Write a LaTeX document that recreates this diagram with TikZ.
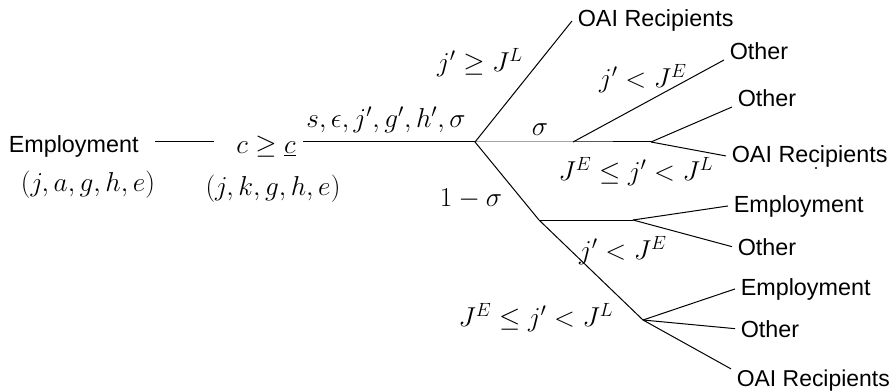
\RequirePackage{fix-cm}
\documentclass[tikz,border=0pt]{standalone}
\usepackage[no-math]{fontspec}
\newfontfamily\labelfont{Liberation Sans}

\tikzset{every picture/.style={line width=0.75pt}}
\tikzset{
  outcome/.style={anchor=base west, inner xsep=4pt, inner ysep=0pt, font=\labelfont\fontsize{17.5}{21}\selectfont},
  cond/.style={inner sep=0pt, font=\fontsize{20.5}{24}\selectfont},
}

\begin{document}
\begin{tikzpicture}[x=0.75pt,y=0.75pt,yscale=-1,xscale=1]
\useasboundingbox (0,0) rectangle (892,392);

% Text Node
\node [outcome] (emp) at (3,152) {Employment};
\node [cond] (empvar) at (88,185) {$(j,a,g,h,e)$};
\node [cond] (cut) at (266,147) {$c\geq\underline{c}$};
\node [cond] (cutvar) at (273,189) {$(j,k,g,h,e)$};

%Branch points
\coordinate (root) at (475,142);
\coordinate (sig) at (573,142);
\coordinate (sigmid) at (651,142);
\coordinate (nosig) at (539,220);
\coordinate (nosigmid) at (633,220);
\coordinate (nosiglow) at (643,320);

% Text Node
\node [outcome] (oaitop) at (572,27) {OAI Recipients};
\node [outcome] (othA) at (724,60) {Other};
\node [outcome] (othB) at (732,107) {Other};
\node [outcome] (oaiB) at (726,162) {OAI Recipients};
\node [outcome] (empC) at (728,212) {Employment};
\node [outcome] (othC) at (732,255) {Other};
\node [outcome] (empD) at (735,295) {Employment};
\node [outcome] (othD) at (735,337) {Other};
\node [outcome, font=\labelfont\fontsize{17.2}{21}\selectfont] (oaiD) at (731,386) {OAI Recipients};

%Straight Lines
\draw [shorten <=8pt, shorten >=16pt] (emp.east |- root) -- (cut.west |- root);
\draw [shorten <=5pt] (cut.east |- root) -- (root);
\draw (root) -- (oaitop.west);
\draw (root) -- (sig) -- (sigmid);
\draw (sig) -- (othA.base west);
\draw (sigmid) -- (othB.base west);
\draw (sigmid) -- (oaiB.west);
\draw (root) -- (nosig) -- (nosiglow);
\draw (nosig) -- (nosigmid);
\draw (nosigmid) -- (empC.west);
\draw (nosigmid) -- (othC.west);
\draw (nosiglow) -- (empD.west);
\draw (nosiglow) -- (othD.west);
\draw (nosiglow) -- (oaiD.north west);

% Text Node
\node [cond] (draws) at (386,120) {$s,\epsilon,j',g',h',\sigma$};
\node [cond] (condL) at (480,63) {$j'\geq J^L$};
\node [cond] (prob) at (540,130) {$\sigma$};
\node [cond] (condEa) at (643,79) {$j'<J^E$};
\node [cond] (condELa) at (636,172) {$J^E\leq j'<J^L$};
\node [cond] (probc) at (471,199) {$1-\sigma$};
\node [cond] (condEb) at (623,251) {$j'<J^E$};
\node [cond] (condELb) at (536,318) {$J^E\leq j'<J^L$};

%Shape: Dot
\fill (816,168) circle (1.2);

\end{tikzpicture}
\end{document}
